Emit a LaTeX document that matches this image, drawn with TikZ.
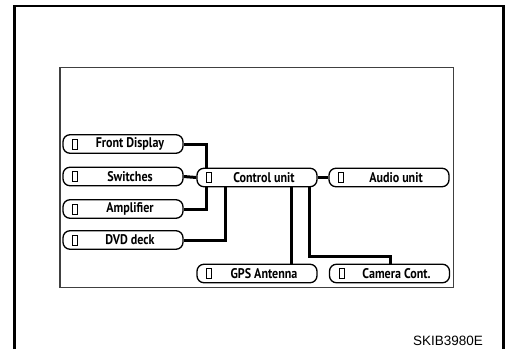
\documentclass[tikz,border=0pt]{standalone}
\usepackage{fontspec}
\setmainfont{Liberation Sans}
\newfontfamily\boxfont[FakeStretch=0.86]{PT Sans Bold}
\usetikzlibrary{backgrounds}
\tikzset{
  unit/.style={draw, line width=1.3pt, rounded corners=7pt, fill=white,
    minimum width=120pt, minimum height=18.5pt, inner sep=0pt,
    font=\boxfont\fontsize{14}{16}\selectfont,
    path picture={\draw[line width=1pt, sharp corners]
      ([xshift=9.5pt,yshift=-5pt]path picture bounding box.west) rectangle
      ([xshift=14.5pt,yshift=5pt]path picture bounding box.west);}},
  link/.style={line width=3pt, line join=miter},
}
\newcommand{\lbl}[1]{\hspace*{14pt}#1}
\begin{document}
\begin{tikzpicture}[x=1pt,y=-1pt]
\useasboundingbox (0,0) rectangle (506,349);
\draw[line width=2.8pt] (14.5,349) -- (14.5,6) -- (503.5,6) -- (503.5,349);
\draw[line width=1.3pt, black!75] (60,67.7) rectangle (453.5,287.5);
\node[unit] (fd)  at (123,144)   {\lbl{Front Display}};
\node[unit] (sw)  at (123,176.5) {\lbl{Switches}};
\node[unit] (amp) at (123,209)   {\lbl{Amplifier}};
\node[unit] (dvd) at (123,240)   {\lbl{DVD deck}};
\node[unit] (cu)  at (257,177.5) {\lbl{Control unit}};
\node[unit] (au)  at (389,177.5) {\lbl{Audio unit}};
\node[unit] (gps) at (257,273.5) {\lbl{GPS Antenna}};
\node[unit] (cam) at (389.5,273.5) {\lbl{Camera Cont.}};
\node[font=\fontsize{13.5}{15}\selectfont] (code) at (448,341) {SKIB3980E};
\coordinate (j1) at ([xshift=10pt]cu.west);
\coordinate (j2) at ([xshift=-32pt]cu.south);
\coordinate (k)  at (390,256.5);
\begin{scope}[on background layer]
\draw[link] (fd.east) -| (j1) |- (amp.east);
\draw[link] (dvd.east) -| (j2);
\draw[link] (sw.east) -- (cu.west);
\draw[link] (cu.east) -- (au.west);
\draw[link] ([xshift=34pt]cu.south) -- ([xshift=34pt]gps.north);
\draw[link] ([xshift=52pt]cu.south) |- (k) -- (k |- cam.north);
\end{scope}
\end{tikzpicture}
\end{document}
